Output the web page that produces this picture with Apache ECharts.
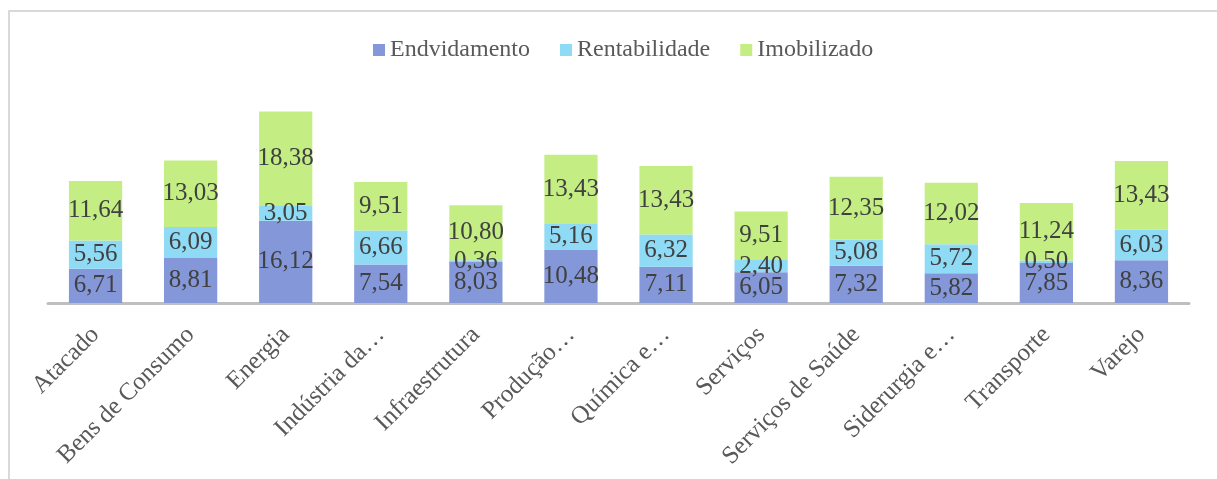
<!DOCTYPE html>
<html>
<head>
<meta charset="utf-8">
<script src="https://cdn.jsdelivr.net/npm/echarts@6/dist/echarts.min.js"></script>
<style>
  html, body { margin: 0; padding: 0; background: #fff; }
  #frame { position: absolute; left: 8px; top: 10px; width: 1209px; height: 469px;
           border-top: 2px solid #d9d9d9; border-left: 2px solid #d9d9d9; box-sizing: border-box; }
  #chart { position: absolute; left: 0; top: 0; width: 1217px; height: 479px; }
</style>
</head>
<body>
<div id="frame"></div>
<div id="chart"></div>
<script>
const categories = ['Atacado', 'Bens de Consumo', 'Energia', 'Indústria da…', 'Infraestrutura',
  'Produção…', 'Química e…', 'Serviços', 'Serviços de Saúde', 'Siderurgia e…', 'Transporte', 'Varejo'];
const endividamento = [6.71, 8.81, 16.12, 7.54, 8.03, 10.48, 7.11, 6.05, 7.32, 5.82, 7.85, 8.36];
const rentabilidade = [5.56, 6.09, 3.05, 6.66, 0.36, 5.16, 6.32, 2.40, 5.08, 5.72, 0.50, 6.03];
const imobilizado = [11.64, 13.03, 18.38, 9.51, 10.80, 13.43, 13.43, 9.51, 12.35, 12.02, 11.24, 13.43];

const chart = echarts.init(document.getElementById('chart'));

const font = '"Liberation Serif", "Times New Roman", serif';
const label = {
  show: true,
  position: 'inside',
  color: '#404040',
  fontFamily: font,
  fontSize: 25,
  formatter: p => p.value.toFixed(2).replace('.', ',')
};

const makeSeries = (name, data, color) => ({
  name: name,
  type: 'bar',
  stack: 'total',
  barWidth: '56%',
  itemStyle: { color: color },
  label: label,
  emphasis: { disabled: true },
  data: data
});

chart.setOption({
  animation: false,
  textStyle: { fontFamily: font },
  legend: {
    top: 33,
    left: 368,
    itemWidth: 12,
    itemHeight: 12,
    itemGap: 30,
    itemTextGap: 6,
    icon: 'rect',
    textStyle: { color: '#595959', fontFamily: font, fontSize: 24 },
    data: ['Endvidamento', 'Rentabilidade', 'Imobilizado']
  },
  grid: { left: 48, right: 28, top: 99, bottom: 176 },
  xAxis: {
    type: 'category',
    data: categories,
    axisLine: { lineStyle: { color: '#bfbfbf', width: 3 } },
    axisTick: { show: false },
    axisLabel: {
      rotate: 45,
      interval: 0,
      margin: 28,
      color: '#595959',
      fontFamily: font,
      fontSize: 25
    }
  },
  yAxis: {
    type: 'value',
    min: 0,
    max: 40,
    show: false,
    splitLine: { show: false }
  },
  series: [
    makeSeries('Endvidamento', endividamento, '#8497d9'),
    makeSeries('Rentabilidade', rentabilidade, '#8fdaf4'),
    makeSeries('Imobilizado', imobilizado, '#c4ee84')
  ]
});
</script>
</body>
</html>
